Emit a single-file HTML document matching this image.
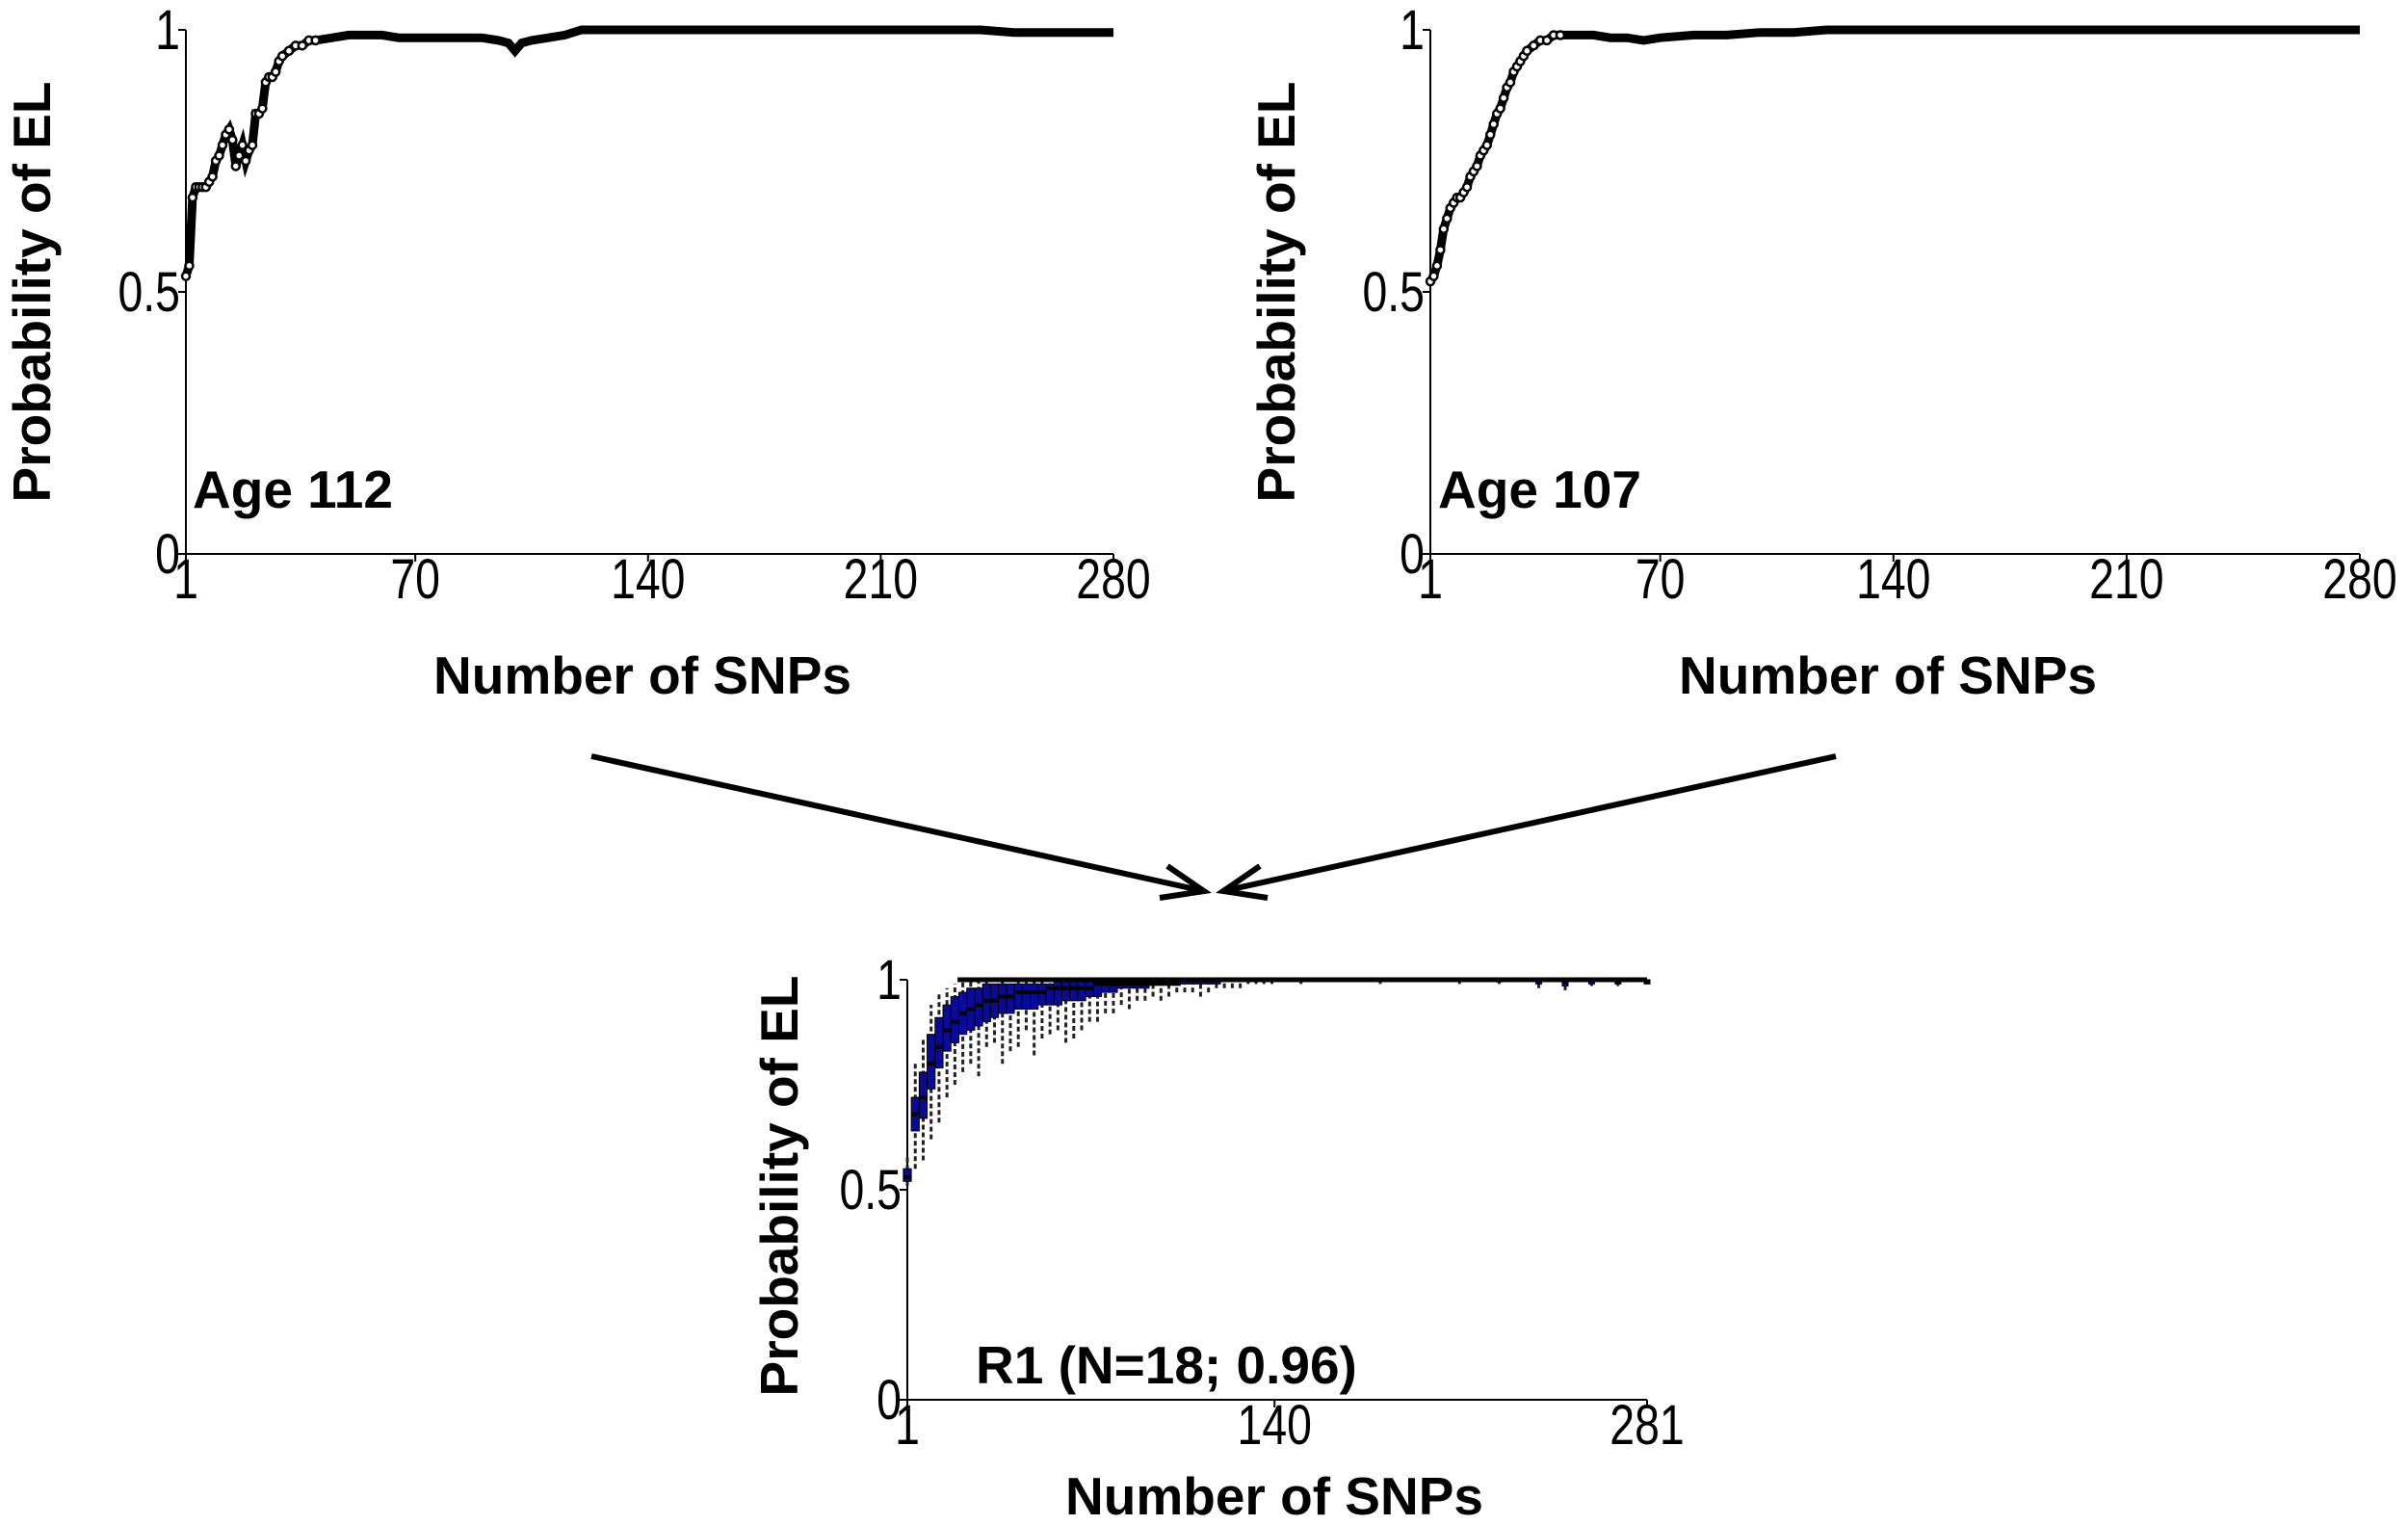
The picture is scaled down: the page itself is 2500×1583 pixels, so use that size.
<!DOCTYPE html>
<html><head><meta charset="utf-8"><style>
html,body{margin:0;padding:0;background:#fff}
svg{display:block}
text{font-family:"Liberation Sans",Arial,sans-serif;fill:#000}
.tick{font-size:58px}
.ttl{font-size:55px;font-weight:bold}
</style></head><body>
<svg id="fig" width="2500" height="1583" viewBox="0 0 2500 1583" xmlns="http://www.w3.org/2000/svg">
<line x1="614" y1="785" x2="1250" y2="925" stroke="#000" stroke-width="6"/>
<path d="M1212,899 L1250,925 L1204,932" fill="none" stroke="#000" stroke-width="6"/>
<line x1="1906" y1="785" x2="1270" y2="925" stroke="#000" stroke-width="6"/>
<path d="M1308,899 L1270,925 L1316,932" fill="none" stroke="#000" stroke-width="6"/>
</svg>
<script>
// Panel 1: Age 112
const snpsA = [1,2,3,4,5,6,7,8,9,10,11,12,13,14,15,16,17,18,19,20,21,22,23,24,25,26,27,28,29,30,32,34,36,38,40,45,50,55,60,65,70,75,80,85,90,95,98,100,102,105,110,115,120,130,140,160,180,200,220,240,250,260,270,280];
const probA = [0.53,0.55,0.68,0.70,0.70,0.70,0.70,0.71,0.72,0.75,0.76,0.78,0.80,0.81,0.79,0.74,0.76,0.78,0.75,0.77,0.78,0.84,0.84,0.85,0.90,0.91,0.91,0.92,0.94,0.95,0.96,0.97,0.97,0.98,0.98,0.985,0.99,0.99,0.99,0.985,0.985,0.985,0.985,0.985,0.985,0.98,0.975,0.96,0.975,0.98,0.985,0.99,1.0,1.0,1.0,1.0,1.0,1.0,1.0,1.0,0.995,0.995,0.995,0.995];
// Panel 2: Age 107
const snpsB = [1,2,3,4,5,6,7,8,9,10,11,12,13,14,15,16,17,18,19,20,21,22,23,24,25,26,27,28,29,30,32,34,36,38,40,45,50,55,60,65,70,80,90,100,110,120,140,160,180,200,220,240,260,280];
const probB = [0.52,0.53,0.55,0.58,0.62,0.64,0.66,0.67,0.68,0.68,0.69,0.70,0.72,0.73,0.74,0.76,0.77,0.78,0.80,0.82,0.84,0.85,0.87,0.89,0.90,0.92,0.93,0.94,0.95,0.96,0.97,0.98,0.98,0.99,0.99,0.99,0.99,0.985,0.985,0.98,0.985,0.99,0.99,0.995,0.995,1.0,1.0,1.0,1.0,1.0,1.0,1.0,1.0,1.0];
// Panel 3: R1 boxplots
const snpsC = [1,4,7,10,13,16,19,22,25,28,31,34,37,40,43,46,49,52,55,58,61,64,67,70,73,76,79,82,85,88,91,94,97,100,103,106,109,112,115,118,121,124,127,130,133,136,139,150,165,180,195,210,225,240,250,260,270,281];
const medC = [0.53,0.68,0.72,0.80,0.84,0.88,0.90,0.92,0.93,0.94,0.95,0.95,0.96,0.96,0.97,0.97,0.97,0.97,0.98,0.98,0.98,0.98,0.98,0.98,0.99,0.99,0.99,0.99,0.99,0.99,0.99,0.99,0.99,0.99,0.99,1,1,1,1,1,1,1,1,1,1,1,1,1,1,1,1,1,1,1,0.995,1,0.995,0.995];
const q1C = [0.52,0.64,0.67,0.74,0.79,0.83,0.85,0.87,0.88,0.89,0.90,0.91,0.92,0.92,0.93,0.93,0.93,0.94,0.94,0.94,0.95,0.95,0.95,0.96,0.96,0.97,0.97,0.98,0.98,0.98,0.98,0.99,0.99,0.99,0.99,0.99,0.99,0.99,0.99,0.99,1,1,1,1,1,1,1,1,1,1,1,1,0.995,0.99,0.985,0.99,0.99,0.99];
const q3C = [0.55,0.72,0.78,0.87,0.91,0.94,0.96,0.97,0.98,0.98,0.99,0.99,0.99,0.99,0.99,0.99,0.99,0.99,0.99,1,1,1,1,1,1,1,1,1,1,1,1,1,1,1,1,1,1,1,1,1,1,1,1,1,1,1,1,1,1,1,1,1,1,1,1,1,1,1];
const loC = [0.51,0.55,0.57,0.62,0.66,0.72,0.75,0.78,0.80,0.77,0.84,0.85,0.80,0.83,0.84,0.88,0.82,0.86,0.87,0.88,0.85,0.86,0.88,0.90,0.90,0.92,0.92,0.94,0.93,0.95,0.95,0.96,0.95,0.96,0.97,0.97,0.97,0.96,0.97,0.98,0.98,0.98,0.98,0.99,0.99,0.99,0.99,0.99,0.995,0.99,0.995,0.99,0.99,0.98,0.975,0.985,0.985,0.99];
const hiC = [0.58,0.80,0.86,0.94,0.97,0.98,0.99,1,1,1,1,1,1,1,1,1,1,1,1,1,1,1,1,1,1,1,1,1,1,1,1,1,1,1,1,1,1,1,1,1,1,1,1,1,1,1,1,1,1,1,1,1,1,1,1,1,1,1];
const ticksTop = [1,70,140,210,280];
const ticksBottom = [1,140,281];
const yTicks = [0,0.5,1];

const NS = "http://www.w3.org/2000/svg";
const svg = document.getElementById('fig');
function mk(tag, attrs, parent){const e=document.createElementNS(NS,tag);for(const k in attrs)e.setAttribute(k,attrs[k]);(parent||svg).appendChild(e);return e;}

function axes(p, xticks, name){
  const g = mk('g',{});
  
  
  const ya = mk('line',{x1:p.x0,y1:p.y1px,x2:p.x0,y2:p.y0px,stroke:'#000','stroke-width':2},g);
  
  
  const xa = mk('line',{x1:p.x0,y1:p.y0px,x2:p.sx(p.xmax),y2:p.y0px,stroke:'#000','stroke-width':2},g);
  
  
  yTicks.forEach(v=>{
    const y=p.sy(v);
    mk('line',{x1:p.x0-8,y1:y,x2:p.x0,y2:y,stroke:'#000','stroke-width':2},g);
    const t=mk('text',{x:0,y:0,'text-anchor':'end',class:'tick',transform:`translate(${p.x0-6},${y+20}) scale(0.8,1)`},g);
    t.textContent=String(v);
    
    
  });
  xticks.forEach(v=>{
    const x=p.sx(v);
    mk('line',{x1:x,y1:p.y0px,x2:x,y2:p.y0px+8,stroke:'#000','stroke-width':2},g);
    const t=mk('text',{x:0,y:0,'text-anchor':'middle',class:'tick',transform:`translate(${x},${p.y0px+46}) scale(0.8,1)`},g);
    t.textContent=String(v);
    
    
  });
  const xt=mk('text',{x:p.xtx,y:p.xty,'text-anchor':'middle',class:'ttl'},g);
  xt.textContent='Number of SNPs';
  
  
  const yt=mk('text',{x:0,y:0,'text-anchor':'middle',class:'ttl',transform:`translate(${p.ytx},${p.yty}) rotate(-90)`},g);
  yt.textContent='Probability of EL';
  
  
  const lb=mk('text',{x:p.lx,y:p.ly,class:'ttl'},g);
  lb.textContent=p.label;
  
  
}
function panel(x0,x1,y1px,y0px,xmax){
  return {x0,y1px,y0px,xmax,sx:v=>x0+(v-1)/(xmax-1)*(x1-x0),sy:v=>y0px-v*(y0px-y1px)};
}
function lineSeries(p, xs, ys, name){
  const d = xs.map((x,i)=>(i?'L':'M')+p.sx(x).toFixed(1)+','+p.sy(ys[i]).toFixed(1)).join(' ');
  const path = mk('path',{d,fill:'none',stroke:'#000','stroke-width':9});
  
  
  xs.forEach((x,i)=>{
    if (x > 40) return;
    const c = mk('circle',{cx:p.sx(x),cy:p.sy(ys[i]),r:4,fill:'#fff',stroke:'#000','stroke-width':2.5});
    
    
  });
}

const pA = Object.assign(panel(193,1156,31,575,280),{xtx:667,xty:720,ytx:52,yty:303,lx:200,ly:527,label:'Age 112'});
axes(pA, ticksTop, 'panel-age-112');
lineSeries(pA, snpsA, probA, 'age-112');

const pB = Object.assign(panel(1485,2450,31,575,280),{xtx:1960,xty:720,ytx:1344,yty:303,lx:1493,ly:527,label:'Age 107'});
axes(pB, ticksTop, 'panel-age-107');
lineSeries(pB, snpsB, probB, 'age-107');

const pC = Object.assign(panel(942,1710,1017,1453,281),{xtx:1323,xty:1572,ytx:828,yty:1231,lx:1013,ly:1436,label:'R1 (N=18; 0.96)'});
axes(pC, ticksBottom, 'panel-r1');
const step = pC.sx(4)-pC.sx(1);
snpsC.forEach((s,i)=>{
  const x = pC.sx(s);
  const w = s>139 ? 6 : step*1.0;
  const wh = mk('line',{x1:x,y1:pC.sy(loC[i]),x2:x,y2:pC.sy(hiC[i]),stroke:'#222','stroke-width':3,'stroke-dasharray':'5,3'});
  
  
  const b = mk('rect',{x:x-w/2,y:pC.sy(q3C[i]),width:w,height:Math.max(1,pC.sy(q1C[i])-pC.sy(q3C[i])),fill:'#0a0a9a',stroke:'#000','stroke-width':1});
  
  
  const m = mk('line',{x1:x-w/2,y1:pC.sy(medC[i]),x2:x+w/2,y2:pC.sy(medC[i]),stroke:'#000','stroke-width':4});
  
  
});
const topLine = mk('line',{x1:pC.sx(20),y1:pC.sy(1),x2:pC.sx(281),y2:pC.sy(1),stroke:'#000','stroke-width':5});


</script>
</body></html>
